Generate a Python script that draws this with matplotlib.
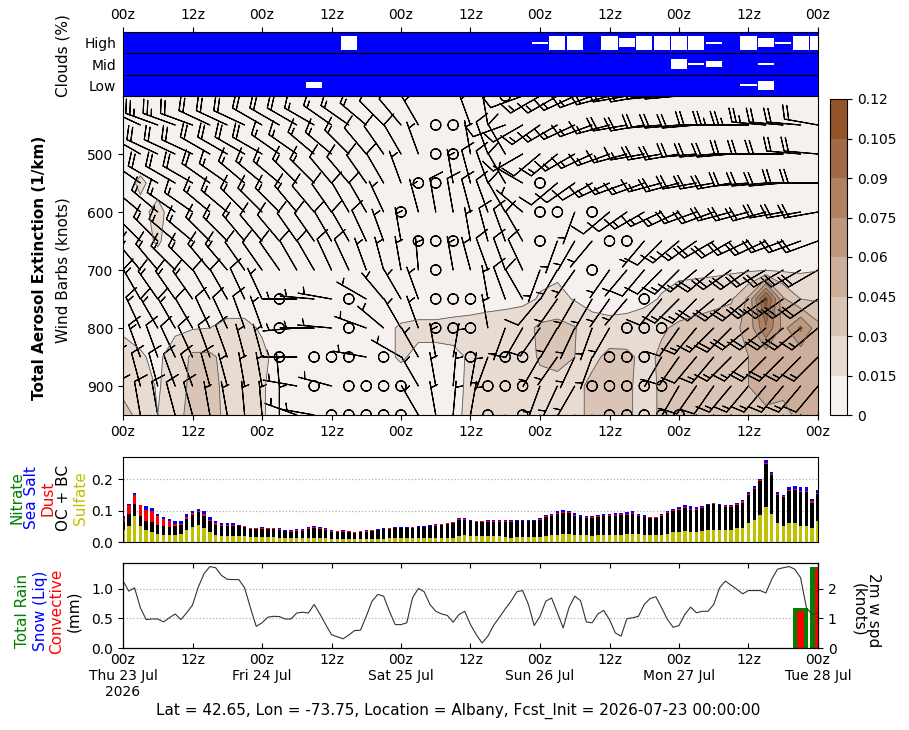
import numpy as np
import matplotlib
matplotlib.use("Agg")
import matplotlib.pyplot as plt
from matplotlib.colors import LinearSegmentedColormap

# ============================================================
# CONFIGURATION
# ============================================================
W, H = 909, 730
OUT = "out.png"

# forecast hours on the x axis (3-hourly profiles, hourly surface data)
PROFILE_HOURS = list(range(0, 121, 3))
HOURLY = list(range(0, 121))
LEVELS = [400, 450, 500, 550, 600, 650, 700, 750, 800, 850, 900, 950]

DAY_LABELS = ["Thu 23 Jul\n2026", "Fri 24 Jul", "Sat 25 Jul", "Sun 26 Jul", "Mon 27 Jul", "Tue 28 Jul"]
FOOTER = "Lat = 42.65, Lon = -73.75, Location = Albany, Fcst_Init = 2026-07-23 00:00:00"

# ------------------------------------------------------------
# Clouds: hours where the layer is (partly) clear, and clear %
# ------------------------------------------------------------
HIGH_T = [39, 72, 75, 78, 84, 87, 90, 93, 96, 99, 102, 108, 111, 114, 117, 120]
HIGH_CLEAR = [100, 12, 100, 100, 100, 65, 100, 100, 100, 100, 12, 100, 65, 12, 100, 100]
MID_T = [96, 99, 102, 111]
MID_CLEAR = [65, 12, 42, 12]
LOW_T = [33, 108, 111]
LOW_CLEAR = [42, 12, 65]

# ------------------------------------------------------------
# Total aerosol extinction (1/km), one list per pressure level
# ------------------------------------------------------------
ext_400 = [0.006, 0.006, 0.006, 0.005, 0.005, 0.005, 0.005, 0.005, 0.005, 0.004,
           0.004, 0.004, 0.004, 0.004, 0.004, 0.004, 0.004, 0.004, 0.004, 0.004,
           0.004, 0.004, 0.004, 0.004, 0.004, 0.004, 0.004, 0.004, 0.004, 0.005,
           0.005, 0.005, 0.005, 0.005, 0.005, 0.005, 0.005, 0.005, 0.005, 0.005, 0.005]
ext_450 = [0.007, 0.007, 0.006, 0.006, 0.006, 0.006, 0.006, 0.005, 0.005, 0.005,
           0.005, 0.005, 0.005, 0.005, 0.005, 0.005, 0.005, 0.005, 0.005, 0.005,
           0.005, 0.005, 0.005, 0.005, 0.005, 0.005, 0.005, 0.005, 0.005, 0.006,
           0.006, 0.006, 0.006, 0.006, 0.006, 0.006, 0.006, 0.006, 0.006, 0.006, 0.006]
ext_500 = [0.008, 0.009, 0.008, 0.007, 0.007, 0.007, 0.006, 0.006, 0.006, 0.006,
           0.006, 0.006, 0.006, 0.006, 0.006, 0.006, 0.006, 0.006, 0.006, 0.006,
           0.006, 0.006, 0.006, 0.006, 0.006, 0.006, 0.006, 0.006, 0.006, 0.007,
           0.007, 0.007, 0.007, 0.007, 0.007, 0.007, 0.007, 0.007, 0.007, 0.007, 0.007]
ext_550 = [0.010, 0.017, 0.011, 0.008, 0.008, 0.008, 0.007, 0.007, 0.007, 0.007,
           0.007, 0.007, 0.007, 0.007, 0.007, 0.007, 0.007, 0.007, 0.007, 0.007,
           0.007, 0.007, 0.007, 0.007, 0.007, 0.007, 0.007, 0.007, 0.007, 0.008,
           0.008, 0.008, 0.008, 0.008, 0.008, 0.008, 0.008, 0.008, 0.008, 0.008, 0.008]
ext_600 = [0.010, 0.012, 0.018, 0.010, 0.009, 0.008, 0.008, 0.008, 0.008, 0.008,
           0.008, 0.008, 0.008, 0.008, 0.008, 0.008, 0.008, 0.008, 0.008, 0.008,
           0.008, 0.008, 0.008, 0.008, 0.008, 0.008, 0.008, 0.008, 0.008, 0.009,
           0.009, 0.009, 0.009, 0.009, 0.009, 0.009, 0.009, 0.009, 0.009, 0.009, 0.009]
ext_650 = [0.011, 0.012, 0.016, 0.011, 0.010, 0.009, 0.009, 0.009, 0.009, 0.009,
           0.009, 0.009, 0.009, 0.009, 0.009, 0.009, 0.009, 0.009, 0.009, 0.009,
           0.009, 0.009, 0.009, 0.009, 0.009, 0.009, 0.009, 0.009, 0.009, 0.010,
           0.010, 0.010, 0.010, 0.010, 0.010, 0.010, 0.010, 0.010, 0.010, 0.010, 0.010]
ext_700 = [0.011, 0.011, 0.011, 0.010, 0.010, 0.010, 0.010, 0.010, 0.010, 0.010,
           0.009, 0.009, 0.009, 0.009, 0.009, 0.009, 0.010, 0.010, 0.010, 0.010,
           0.010, 0.010, 0.010, 0.011, 0.012, 0.012, 0.011, 0.010, 0.010, 0.010,
           0.011, 0.011, 0.012, 0.012, 0.012, 0.013, 0.013, 0.014, 0.013, 0.013, 0.0145]
ext_750 = [0.010, 0.010, 0.010, 0.010, 0.010, 0.011, 0.011, 0.011, 0.010, 0.010,
           0.009, 0.009, 0.009, 0.009, 0.009, 0.010, 0.010, 0.010, 0.010, 0.010,
           0.010, 0.011, 0.011, 0.012, 0.016, 0.019, 0.014, 0.011, 0.011, 0.011,
           0.012, 0.016, 0.020, 0.022, 0.025, 0.028, 0.048, 0.112, 0.047, 0.030, 0.028]
ext_800 = [0.013, 0.012, 0.012, 0.013, 0.014, 0.015, 0.017, 0.017, 0.014, 0.011,
           0.010, 0.010, 0.010, 0.011, 0.012, 0.013, 0.016, 0.017, 0.017, 0.018,
           0.019, 0.020, 0.022, 0.024, 0.033, 0.035, 0.031, 0.020, 0.018, 0.019,
           0.022, 0.028, 0.033, 0.036, 0.038, 0.040, 0.050, 0.088, 0.055, 0.078, 0.050]
ext_850 = [0.020, 0.016, 0.013, 0.020, 0.033, 0.033, 0.025, 0.022, 0.017, 0.012,
           0.011, 0.011, 0.011, 0.011, 0.012, 0.013, 0.016, 0.013, 0.013, 0.013,
           0.016, 0.020, 0.021, 0.022, 0.032, 0.034, 0.030, 0.025, 0.035, 0.034,
           0.025, 0.033, 0.036, 0.038, 0.040, 0.040, 0.045, 0.050, 0.045, 0.050, 0.052]
ext_900 = [0.025, 0.020, 0.014, 0.020, 0.035, 0.036, 0.025, 0.020, 0.016, 0.011,
           0.010, 0.010, 0.010, 0.010, 0.010, 0.010, 0.011, 0.012, 0.012, 0.012,
           0.017, 0.020, 0.020, 0.021, 0.025, 0.026, 0.024, 0.035, 0.036, 0.034,
           0.022, 0.033, 0.035, 0.036, 0.037, 0.038, 0.045, 0.047, 0.046, 0.048, 0.050]
ext_950 = [0.036, 0.025, 0.015, 0.022, 0.038, 0.038, 0.025, 0.020, 0.016, 0.011,
           0.010, 0.010, 0.010, 0.010, 0.010, 0.010, 0.011, 0.012, 0.012, 0.012,
           0.018, 0.020, 0.020, 0.021, 0.025, 0.025, 0.024, 0.035, 0.036, 0.034,
           0.022, 0.033, 0.035, 0.036, 0.036, 0.037, 0.042, 0.044, 0.044, 0.046, 0.048]

# ------------------------------------------------------------
# Wind direction (deg) and speed (knots), one list per level
# ------------------------------------------------------------
dir_400 = [290, 290, 285, 285, 290, 290, 290, 290, 295, 295,
           295, 300, 300, 300, 305, 310, 315, 320, 330, 340,
           350, 345, 0, 250, 240, 240, 245, 250, 255, 260,
           260, 265, 265, 270, 270, 275, 275, 275, 280, 280, 280]
spd_400 = [25, 25, 25, 25, 25, 25, 25, 20, 20, 20,
           20, 20, 20, 15, 15, 15, 15, 10, 10, 10,
           10, 5, 0, 10, 15, 15, 15, 15, 20, 20,
           20, 20, 20, 25, 25, 25, 25, 25, 25, 25, 25]
dir_450 = [295, 295, 290, 290, 290, 295, 295, 295, 300, 300,
           300, 300, 305, 305, 310, 315, 320, 330, 0, 0,
           340, 350, 250, 240, 235, 240, 245, 250, 255, 260,
           260, 265, 265, 265, 270, 270, 270, 275, 275, 275, 280]
spd_450 = [25, 25, 25, 25, 20, 20, 20, 20, 20, 20,
           20, 15, 15, 15, 15, 10, 10, 5, 0, 0,
           5, 5, 10, 10, 15, 15, 15, 15, 15, 20,
           20, 20, 20, 20, 20, 25, 25, 25, 20, 20, 20]
dir_500 = [300, 300, 295, 295, 295, 300, 300, 300, 300, 305,
           305, 310, 310, 315, 320, 325, 330, 340, 0, 0,
           350, 340, 330, 240, 230, 230, 240, 245, 250, 255,
           260, 260, 260, 265, 265, 265, 270, 270, 270, 275, 275]
spd_500 = [20, 20, 20, 20, 20, 20, 20, 20, 20, 15,
           15, 15, 15, 15, 10, 10, 10, 5, 0, 0,
           5, 10, 10, 10, 10, 15, 15, 15, 15, 15,
           15, 20, 20, 20, 20, 20, 20, 20, 20, 20, 20]
dir_550 = [305, 305, 300, 300, 300, 305, 305, 310, 310, 310,
           315, 315, 320, 320, 325, 330, 340, 0, 0, 350,
           345, 340, 330, 300, 0, 230, 235, 240, 245, 250,
           250, 255, 255, 260, 260, 260, 265, 265, 265, 270, 270]
spd_550 = [20, 20, 20, 20, 20, 20, 15, 15, 15, 15,
           15, 15, 10, 10, 10, 10, 5, 0, 0, 5,
           10, 10, 10, 5, 0, 10, 10, 10, 15, 15,
           15, 15, 20, 20, 20, 20, 20, 20, 20, 20, 20]
dir_600 = [310, 310, 310, 305, 305, 310, 310, 315, 315, 315,
           320, 320, 325, 330, 330, 335, 0, 345, 350, 350,
           345, 340, 330, 310, 0, 0, 200, 0, 230, 235,
           240, 245, 245, 250, 250, 255, 255, 255, 260, 260, 260]
spd_600 = [15, 15, 15, 15, 15, 15, 15, 15, 15, 15,
           15, 10, 10, 10, 10, 5, 0, 5, 10, 10,
           10, 10, 10, 5, 0, 0, 5, 0, 10, 10,
           15, 15, 15, 20, 20, 20, 20, 20, 20, 20, 20]
dir_650 = [315, 315, 315, 310, 310, 315, 315, 320, 320, 320,
           325, 325, 330, 330, 335, 340, 350, 0, 0, 0,
           350, 345, 340, 330, 0, 200, 210, 220, 0, 0,
           220, 225, 230, 235, 240, 240, 245, 245, 250, 250, 250]
spd_650 = [15, 15, 15, 15, 15, 15, 15, 15, 10, 10,
           10, 10, 10, 10, 10, 5, 5, 0, 0, 0,
           5, 10, 10, 10, 0, 5, 5, 5, 0, 0,
           5, 10, 15, 15, 20, 20, 20, 20, 20, 20, 20]
dir_700 = [320, 320, 320, 315, 315, 320, 320, 325, 325, 325,
           330, 330, 335, 335, 340, 345, 350, 355, 0, 350,
           345, 340, 340, 335, 200, 210, 215, 0, 215, 220,
           220, 225, 225, 230, 230, 235, 235, 240, 240, 240, 240]
spd_700 = [15, 15, 15, 15, 15, 15, 15, 10, 10, 10,
           10, 10, 10, 10, 5, 5, 5, 5, 0, 5,
           5, 10, 10, 10, 5, 5, 5, 0, 5, 5,
           10, 10, 15, 15, 20, 20, 20, 20, 20, 20, 20]
dir_750 = [330, 330, 325, 325, 325, 330, 330, 335, 335, 0,
           270, 275, 280, 0, 300, 320, 330, 340, 0, 0,
           0, 350, 340, 330, 220, 215, 210, 210, 215, 220,
           0, 220, 225, 225, 230, 230, 230, 235, 235, 235, 235]
spd_750 = [15, 15, 15, 15, 15, 10, 10, 10, 5, 0,
           5, 5, 5, 0, 5, 5, 5, 5, 0, 0,
           0, 5, 10, 10, 10, 5, 5, 5, 5, 5,
           0, 10, 15, 15, 20, 20, 20, 25, 25, 20, 20]
dir_800 = [335, 335, 330, 330, 330, 335, 335, 340, 340, 0,
           265, 270, 275, 0, 290, 310, 330, 340, 0, 0,
           0, 350, 200, 210, 215, 210, 205, 200, 210, 0,
           0, 0, 215, 220, 225, 225, 230, 230, 230, 230, 230]
spd_800 = [15, 15, 15, 15, 10, 10, 10, 10, 5, 0,
           5, 5, 5, 0, 5, 5, 5, 5, 0, 0,
           0, 5, 5, 10, 10, 5, 5, 5, 5, 0,
           0, 0, 10, 15, 15, 20, 20, 20, 20, 20, 15]
dir_850 = [340, 340, 340, 335, 335, 340, 340, 345, 345, 0,
           270, 0, 0, 0, 280, 0, 300, 330, 350, 10,
           0, 200, 0, 0, 210, 215, 205, 200, 0, 0,
           0, 210, 215, 220, 220, 225, 225, 225, 225, 225, 225]
spd_850 = [15, 15, 10, 10, 10, 10, 10, 5, 5, 0,
           5, 0, 0, 0, 5, 0, 5, 5, 5, 5,
           0, 5, 0, 0, 5, 5, 5, 5, 0, 0,
           0, 5, 10, 10, 15, 15, 15, 20, 20, 15, 15]
dir_900 = [345, 345, 345, 340, 340, 345, 345, 350, 350, 355,
           280, 0, 285, 0, 0, 0, 0, 330, 350, 5,
           10, 0, 0, 0, 200, 205, 210, 0, 0, 0,
           0, 0, 210, 215, 215, 220, 220, 220, 220, 220, 220]
spd_900 = [10, 10, 10, 10, 10, 10, 5, 5, 5, 5,
           5, 0, 5, 0, 0, 0, 0, 5, 5, 5,
           5, 0, 0, 0, 5, 5, 5, 0, 0, 0,
           0, 0, 5, 10, 10, 15, 15, 15, 15, 15, 10]
dir_950 = [350, 350, 350, 345, 345, 350, 350, 355, 355, 0,
           290, 280, 0, 0, 0, 0, 0, 330, 350, 5,
           10, 0, 200, 0, 205, 210, 210, 210, 0, 0,
           0, 0, 0, 210, 215, 215, 215, 215, 215, 215, 215]
spd_950 = [10, 10, 10, 10, 10, 5, 5, 5, 5, 5,
           5, 5, 0, 0, 0, 0, 0, 5, 5, 5,
           5, 0, 5, 0, 5, 5, 5, 5, 0, 0,
           0, 0, 0, 10, 10, 10, 15, 15, 15, 10, 10]

# ------------------------------------------------------------
# Aerosol extinction components near the surface (hourly)
# ------------------------------------------------------------
SULFATE = [0.037, 0.052, 0.082, 0.052, 0.037, 0.033, 0.027, 0.023, 0.023, 0.023,
           0.027, 0.037, 0.048, 0.055, 0.046, 0.033, 0.023, 0.020, 0.020, 0.020,
           0.020, 0.018, 0.016, 0.016, 0.016, 0.015, 0.015, 0.012, 0.012, 0.012,
           0.012, 0.012, 0.014, 0.012, 0.012, 0.012, 0.009, 0.009, 0.009, 0.009,
           0.009, 0.009, 0.009, 0.010, 0.010, 0.010, 0.012, 0.012, 0.012, 0.012,
           0.012, 0.012, 0.012, 0.012, 0.014, 0.014, 0.014, 0.014, 0.019, 0.022,
           0.020, 0.018, 0.018, 0.018, 0.018, 0.018, 0.016, 0.014, 0.016, 0.016,
           0.016, 0.016, 0.016, 0.020, 0.023, 0.023, 0.027, 0.027, 0.023, 0.023,
           0.023, 0.020, 0.023, 0.023, 0.023, 0.023, 0.023, 0.027, 0.027, 0.027,
           0.023, 0.023, 0.023, 0.023, 0.027, 0.033, 0.033, 0.036, 0.033, 0.033,
           0.036, 0.039, 0.039, 0.039, 0.039, 0.039, 0.043, 0.046, 0.059, 0.071,
           0.087, 0.110, 0.090, 0.059, 0.052, 0.059, 0.059, 0.052, 0.052, 0.046, 0.066]
OC_BC = [0.026, 0.038, 0.040, 0.032, 0.031, 0.030, 0.028, 0.029, 0.024, 0.029,
         0.028, 0.037, 0.039, 0.039, 0.038, 0.035, 0.032, 0.032, 0.032, 0.032,
         0.030, 0.030, 0.026, 0.026, 0.026, 0.027, 0.027, 0.026, 0.022, 0.020,
         0.022, 0.023, 0.028, 0.032, 0.028, 0.026, 0.024, 0.022, 0.023, 0.022,
         0.020, 0.022, 0.023, 0.026, 0.027, 0.030, 0.028, 0.031, 0.031, 0.031,
         0.033, 0.035, 0.035, 0.038, 0.038, 0.039, 0.043, 0.047, 0.052, 0.049,
         0.046, 0.045, 0.045, 0.045, 0.045, 0.045, 0.047, 0.049, 0.050, 0.050,
         0.050, 0.050, 0.053, 0.060, 0.060, 0.065, 0.066, 0.066, 0.061, 0.055,
         0.052, 0.055, 0.057, 0.059, 0.059, 0.061, 0.063, 0.060, 0.063, 0.055,
         0.056, 0.053, 0.053, 0.061, 0.064, 0.065, 0.070, 0.072, 0.068, 0.070,
         0.072, 0.077, 0.082, 0.078, 0.071, 0.071, 0.074, 0.079, 0.089, 0.096,
         0.106, 0.137, 0.123, 0.090, 0.090, 0.103, 0.107, 0.106, 0.106, 0.079, 0.085]
DUST = [0.014, 0.026, 0.028, 0.032, 0.035, 0.035, 0.029, 0.022, 0.020, 0.006,
        0.003, 0.007, 0.005, 0.005, 0.006, 0.003, 0.005, 0.003, 0.002, 0.002,
        0.002, 0.002, 0.002, 0.002, 0.002, 0.002, 0.002, 0.002, 0.002, 0.002,
        0.003, 0.004, 0.004, 0.004, 0.004, 0.004, 0.002, 0.003, 0.004, 0.003,
        0.003, 0.003, 0.004, 0.002, 0.002, 0.002, 0.003, 0.003, 0.003, 0.003,
        0.003, 0.002, 0.002, 0.002, 0.003, 0.004, 0.002, 0.001, 0.002, 0.002,
        0.002, 0.003, 0.003, 0.003, 0.003, 0.003, 0.003, 0.003, 0.002, 0.002,
        0.002, 0.002, 0.004, 0.003, 0.003, 0.004, 0.003, 0.003, 0.003, 0.003,
        0.003, 0.003, 0.003, 0.002, 0.003, 0.002, 0.002, 0.002, 0.002, 0.003,
        0.002, 0.002, 0.002, 0.003, 0.004, 0.003, 0.003, 0.004, 0.003, 0.003,
        0.002, 0.003, 0.002, 0.002, 0.005, 0.004, 0.003, 0.004, 0.006, 0.005,
        0.004, 0.003, 0.003, 0.002, 0.003, 0.003, 0.003, 0.003, 0.003, 0.004, 0.005]
SEA_SALT = [0.007, 0.006, 0.005, 0.003, 0.010, 0.009, 0.006, 0.006, 0.006, 0.010,
            0.010, 0.009, 0.007, 0.006, 0.010, 0.010, 0.007, 0.006, 0.007, 0.007,
            0.003, 0.002, 0.002, 0.002, 0.004, 0.002, 0.002, 0.003, 0.003, 0.003,
            0.003, 0.001, 0.001, 0.002, 0.003, 0.003, 0.002, 0.002, 0.001, 0.001,
            0.001, 0.001, 0.001, 0.001, 0.001, 0.001, 0.001, 0.001, 0.001, 0.001,
            0.001, 0.001, 0.001, 0.001, 0.001, 0.001, 0.002, 0.001, 0.004, 0.004,
            0.003, 0.001, 0.001, 0.003, 0.003, 0.003, 0.003, 0.003, 0.001, 0.003,
            0.003, 0.003, 0.004, 0.004, 0.004, 0.005, 0.005, 0.002, 0.005, 0.005,
            0.005, 0.005, 0.004, 0.005, 0.004, 0.007, 0.005, 0.005, 0.005, 0.003,
            0.005, 0.002, 0.002, 0.003, 0.005, 0.005, 0.006, 0.006, 0.009, 0.006,
            0.005, 0.003, 0.002, 0.003, 0.003, 0.004, 0.005, 0.003, 0.006, 0.007,
            0.004, 0.010, 0.007, 0.007, 0.005, 0.010, 0.010, 0.013, 0.013, 0.006, 0.008]

# ------------------------------------------------------------
# Precipitation (mm per 3 h) and 2 m wind speed (knots)
# ------------------------------------------------------------
PRECIP_T = [117, 120]
TOTAL_RAIN = [0.667, 1.37]
SNOW_LIQ = [0.0, 0.0]
CONVECTIVE = [0.63, 1.34]

WIND_2M = [2.26, 1.92, 2.03, 1.36, 0.96, 0.98, 0.98, 0.88, 1.02, 1.15,
           0.96, 1.19, 1.45, 2.06, 2.51, 2.75, 2.71, 2.45, 2.32, 2.31,
           2.31, 2.03, 1.36, 0.73, 0.85, 1.04, 1.07, 1.06, 0.98, 0.98,
           1.18, 1.21, 1.18, 1.47, 1.15, 0.79, 0.45, 0.38, 0.31, 0.44,
           0.59, 0.60, 1.07, 1.58, 1.81, 1.75, 1.24, 0.79, 0.79, 0.85,
           1.70, 2.01, 1.90, 1.47, 1.24, 1.15, 1.10, 0.87, 1.13, 1.24,
           0.79, 0.45, 0.17, 0.40, 0.77, 1.04, 1.32, 1.58, 1.90, 1.94,
           1.47, 0.76, 1.07, 1.58, 1.69, 1.19, 0.68, 1.36, 1.75, 1.60,
           0.88, 0.85, 1.15, 1.27, 0.96, 0.51, 0.40, 0.99, 1.02, 1.07,
           1.47, 1.67, 1.73, 1.36, 0.96, 0.70, 0.76, 1.13, 1.38, 1.19,
           1.24, 1.24, 1.47, 2.03, 2.26, 2.12, 1.98, 1.83, 1.94, 1.94,
           1.94, 1.86, 2.32, 2.66, 2.71, 2.75, 2.66, 2.37, 1.36, 1.13, 1.19]

EXT_LEVELS = [0, 0.015, 0.03, 0.045, 0.06, 0.075, 0.09, 0.105, 0.12]


# ============================================================
# HELPERS
# ============================================================
def box(x0, y0, x1, y1):
    """pixel box (top-left origin) -> figure fraction rect"""
    return [x0 / W, 1 - y1 / H, (x1 - x0) / W, (y1 - y0) / H]


def ftext(fig, x, y, s, **kw):
    fig.text(x / W, 1 - y / H, s, **kw)


def zlabels(hours):
    return ["00z" if h % 24 == 0 else "12z" for h in hours]


# ============================================================
# MAIN
# ============================================================
def main():
    fig = plt.figure(figsize=(W / 100, H / 100), dpi=100)

    ax_cld = fig.add_axes(box(123, 32, 818, 96))
    ax_ext = fig.add_axes(box(123, 96, 818, 415))
    cax = fig.add_axes(box(830, 99, 847, 415))
    ax_aer = fig.add_axes(box(123, 457, 818, 542))
    ax_pr = fig.add_axes(box(123, 563, 818, 648))

    ticks = list(range(0, 121, 12))

    # --- clouds ---
    ax_cld.set_facecolor("#0000ff")
    for row, (tt, clear) in enumerate([(LOW_T, LOW_CLEAR), (MID_T, MID_CLEAR), (HIGH_T, HIGH_CLEAR)]):
        hgt = np.array(clear) / 100 * 0.66
        ax_cld.bar(tt, hgt, width=2.8, bottom=row + 0.5 - hgt / 2, color="white", linewidth=0)
    ax_cld.axhline(1, color="black", lw=0.8)
    ax_cld.axhline(2, color="black", lw=0.8)
    ax_cld.set_xlim(0, 120)
    ax_cld.set_ylim(0, 3)
    ax_cld.set_yticks([0.5, 1.5, 2.5], ["Low", "Mid", "High"])
    ax_cld.tick_params(axis="y", length=0, pad=5, labelsize=10)
    ax_cld.xaxis.tick_top()
    ax_cld.set_xticks(ticks, zlabels(ticks))
    ax_cld.tick_params(axis="x", labelsize=10)

    # --- extinction + wind barbs ---
    ext = np.array([ext_400, ext_450, ext_500, ext_550, ext_600, ext_650,
                    ext_700, ext_750, ext_800, ext_850, ext_900, ext_950])
    wdir = np.array([dir_400, dir_450, dir_500, dir_550, dir_600, dir_650,
                     dir_700, dir_750, dir_800, dir_850, dir_900, dir_950], dtype=float)
    wspd = np.array([spd_400, spd_450, spd_500, spd_550, spd_600, spd_650,
                     spd_700, spd_750, spd_800, spd_850, spd_900, spd_950], dtype=float)

    cmap = LinearSegmentedColormap.from_list("ext", ["#f6f1ee", "#93542a"])
    colors = [cmap(i / 7) for i in range(8)]
    tt, pp = np.meshgrid(PROFILE_HOURS, LEVELS)
    cf = ax_ext.contourf(tt, pp, ext, levels=EXT_LEVELS, colors=colors)
    ax_ext.contour(tt, pp, ext, levels=EXT_LEVELS[1:], colors="#5a5a5a", linewidths=0.6)

    rad = np.deg2rad(wdir)
    u = -wspd * np.sin(rad)
    v = -wspd * np.cos(rad)
    ax_ext.barbs(tt, pp, u, v, length=7, linewidth=0.8, color="black")

    ax_ext.set_xlim(0, 120)
    ax_ext.set_ylim(950, 400)
    ax_ext.set_yticks([500, 600, 700, 800, 900])
    ax_ext.set_xticks(ticks, zlabels(ticks))
    ax_ext.tick_params(labelsize=10)

    cb = fig.colorbar(cf, cax=cax, ticks=EXT_LEVELS, format="%g")
    cb.ax.tick_params(labelsize=10)
    cb.outline.set_linewidth(0.8)

    # --- aerosol components ---
    hrs = np.array(HOURLY)
    s = np.array(SULFATE)
    o = np.array(OC_BC)
    d = np.array(DUST)
    ss = np.array(SEA_SALT)
    bw = 0.6
    ax_aer.bar(hrs, s, bw, color="#c0c000")
    ax_aer.bar(hrs, o, bw, bottom=s, color="black")
    ax_aer.bar(hrs, d, bw, bottom=s + o, color="red")
    ax_aer.bar(hrs, ss, bw, bottom=s + o + d, color="blue")
    ax_aer.set_xlim(0, 120)
    ax_aer.set_ylim(0, 0.27)
    ax_aer.set_yticks([0, 0.1, 0.2], ["0.0", "0.1", "0.2"])
    ax_aer.grid(axis="y", color="#b0b0b0", linestyle=":", lw=0.9)
    ax_aer.set_axisbelow(True)
    ax_aer.tick_params(axis="x", bottom=False, labelbottom=False)
    ax_aer.tick_params(axis="y", labelsize=10)

    # --- precipitation + 2 m wind ---
    ax_pr.bar(PRECIP_T, TOTAL_RAIN, width=2.7, color="green")
    ax_pr.bar(PRECIP_T, SNOW_LIQ, width=2.0, color="blue")
    ax_pr.bar(PRECIP_T, CONVECTIVE, width=1.2, color="red")
    ax_pr.set_xlim(0, 120)
    ax_pr.set_ylim(0, 1.43)
    ax_pr.set_yticks([0, 0.5, 1.0], ["0.0", "0.5", "1.0"])
    ax_pr.grid(axis="y", color="#b0b0b0", linestyle=":", lw=0.9)
    ax_pr.set_axisbelow(True)
    day_ticks = []
    di = 0
    for h in ticks:
        if h % 24 == 0:
            day_ticks.append("00z\n" + DAY_LABELS[di])
            di += 1
        else:
            day_ticks.append("12z")
    ax_pr.set_xticks(ticks, day_ticks)
    ax_pr.tick_params(axis="x", direction="in", top=True, labelsize=10)
    ax_pr.tick_params(axis="y", labelsize=10)

    ax_w = ax_pr.twinx()
    ax_w.plot(hrs, WIND_2M, color="#333333", lw=0.8)
    ax_w.set_xlim(0, 120)
    ax_w.set_ylim(0, 2.87)
    ax_w.set_yticks([0, 1, 2])
    ax_w.tick_params(axis="y", labelsize=10)

    # --- labels ---
    ftext(fig, 63, 56, "Clouds (%)", rotation=90, ha="center", va="center", fontsize=11)
    ftext(fig, 40, 268, "Total Aerosol Extinction (1/km)", rotation=90, ha="center", va="center",
          fontsize=11, fontweight="bold")
    ftext(fig, 63, 270, "Wind Barbs (knots)", rotation=90, ha="center", va="center", fontsize=11)

    for x, lab, col in [(17, "Nitrate", "green"), (32, "Sea Salt", "blue"), (48, "Dust", "red"),
                        (63, "OC + BC", "black"), (80, "Sulfate", "#c0c000")]:
        ftext(fig, x, 498, lab, rotation=90, ha="center", va="center", fontsize=11, color=col)

    for x, lab, col in [(23, "Total Rain", "green"), (40, "Snow (Liq)", "blue"),
                        (57, "Convective", "red"), (74, "(mm)", "black")]:
        ftext(fig, x, 611, lab, rotation=90, ha="center", va="center", fontsize=11, color=col)

    ftext(fig, 866, 610, "2m w spd\n(knots)", rotation=270, ha="center", va="center", fontsize=11,
          linespacing=0.95)
    ftext(fig, 458, 711, FOOTER, ha="center", va="center", fontsize=11)

    fig.savefig(OUT, dpi=100)
    plt.close(fig)


if __name__ == "__main__":
    main()
